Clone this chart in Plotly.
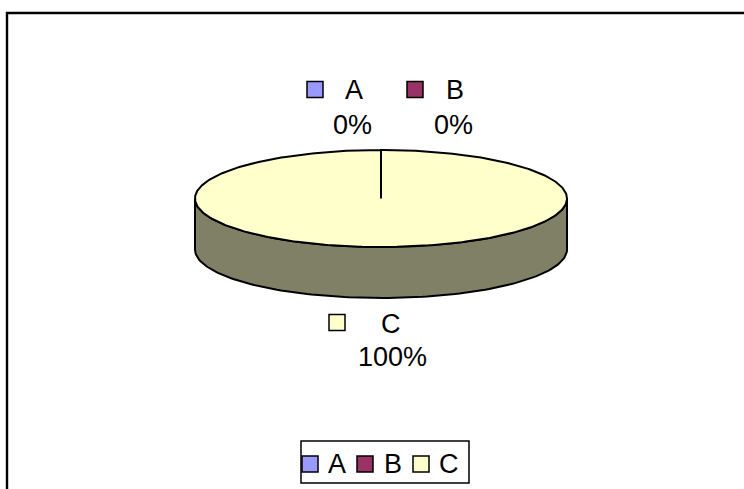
import numpy as np
import plotly.graph_objects as go

# ---- data ----
labels = ["A", "B", "C"]
values = [0, 0, 100]
colors = ["#9999FF", "#993366", "#FFFFCC"]
side_colors = ["#4D4D80", "#4D1A33", "#808066"]

# ---- layout constants (pixel space) ----
W, H = 744, 489
CX, CY = 381, 198.5     # pie centre
RA, RB = 186, 48.5      # ellipse semi-axes
DEPTH = 51              # pie thickness
FONT = dict(family="Liberation Sans, Arial, sans-serif", size=27, color="black")
OUTLINE = 2.0

total = sum(values)
fracs = [v / total for v in values]
pcts = [f"{round(f * 100)}%" for f in fracs]

def ept(theta_deg, dy=0.0):
    t = np.radians(theta_deg)
    return CX + RA * np.cos(t), CY - RB * np.sin(t) + dy

fig = go.Figure()

# slice angle intervals, clockwise from 12 o'clock
starts, ends = [], []
ang = 90.0
for f in fracs:
    starts.append(ang)
    ang -= f * 360.0
    ends.append(ang)

# side walls (front half only)
for i in range(len(values)):
    s, e = starts[i], ends[i]
    if s == e:
        continue
    for k in range(-2, 3):
        lo, hi = -180 + 360 * k, 360 * k
        a0, a1 = max(e, lo), min(s, hi)
        if a1 > a0:
            th = np.linspace(a1, a0, 120)
            xt, yt = ept(th)
            xb, yb = ept(th[::-1], DEPTH)
            xs = np.concatenate([xt, xb, xt[:1]])
            ys = np.concatenate([yt, yb, yt[:1]])
            fig.add_trace(go.Scatter(x=xs, y=ys, mode="lines", fill="toself",
                                     fillcolor=side_colors[i],
                                     line=dict(color="black", width=OUTLINE),
                                     hoverinfo="skip", showlegend=False))

# top face wedges
for i in range(len(values)):
    s, e = starts[i], ends[i]
    n = max(2, int(abs(s - e) / 360 * 400))
    th = np.linspace(s, e, n)
    xa, ya = ept(th)
    xs = np.concatenate([[CX], xa, [CX]])
    ys = np.concatenate([[CY], ya, [CY]])
    fig.add_trace(go.Scatter(x=xs, y=ys, mode="lines", fill="toself",
                             fillcolor=colors[i],
                             line=dict(color="black", width=OUTLINE),
                             hoverinfo="skip", showlegend=False))

shapes = []
annotations = []

# chart area border
shapes.append(dict(type="rect", xref="x", yref="y", x0=7, y0=13, x1=W + 20, y1=H + 20,
                   line=dict(color="black", width=2.4), fillcolor="rgba(0,0,0,0)"))

# data labels with legend keys: (key_x, key_y, name_x, pct_x, name_y, pct_y)
label_pos = [
    (315, 89.5, 354, 352, 90, 125),
    (415, 89.5, 455, 453, 90, 125),
    (337, 322.5, 391, 392, 324, 357),
]
KS = 8
for i, (kx, ky, nx, px, ny, py) in enumerate(label_pos):
    shapes.append(dict(type="rect", xref="x", yref="y", x0=kx - KS, x1=kx + KS,
                       y0=ky - KS, y1=ky + KS, fillcolor=colors[i],
                       line=dict(color="black", width=1.5)))
    annotations.append(dict(x=nx, y=ny, xref="x", yref="y", text=labels[i],
                            showarrow=False, font=FONT, xanchor="center", yanchor="middle"))
    annotations.append(dict(x=px, y=py, xref="x", yref="y", text=pcts[i],
                            showarrow=False, font=FONT, xanchor="center", yanchor="middle"))

# legend box
shapes.append(dict(type="rect", xref="x", yref="y", x0=301, x1=469, y0=441, y1=483,
                   line=dict(color="black", width=1.5), fillcolor="white"))
leg_key_x = [310, 365, 421]
leg_txt_x = [337, 393, 449]
LEG_Y = 464
for i in range(len(labels)):
    shapes.append(dict(type="rect", xref="x", yref="y", x0=leg_key_x[i] - KS,
                       x1=leg_key_x[i] + KS, y0=LEG_Y - KS, y1=LEG_Y + KS,
                       fillcolor=colors[i], line=dict(color="black", width=1.5)))
    annotations.append(dict(x=leg_txt_x[i], y=LEG_Y, xref="x", yref="y", text=labels[i],
                            showarrow=False, font=FONT, xanchor="center", yanchor="middle"))

fig.update_layout(
    width=W, height=H,
    margin=dict(l=0, r=0, t=0, b=0),
    paper_bgcolor="white", plot_bgcolor="white",
    xaxis=dict(range=[0, W], visible=False, fixedrange=True),
    yaxis=dict(range=[H, 0], visible=False, fixedrange=True),
    shapes=shapes, annotations=annotations,
    showlegend=False,
)
fig.write_html("out.html", config={"displayModeBar": False},
               post_script="document.body.style.margin='0';document.body.style.overflow='hidden';")
